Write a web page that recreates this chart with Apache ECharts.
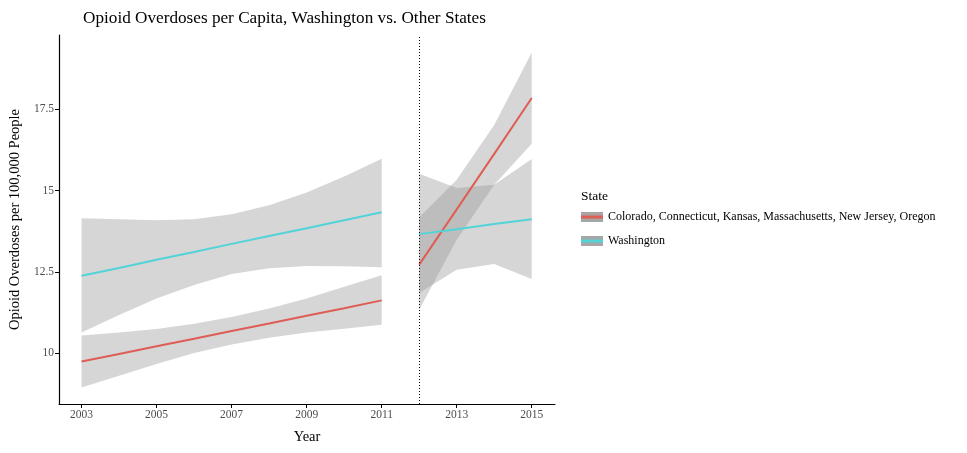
<!DOCTYPE html>
<html>
<head>
<meta charset="utf-8">
<script src="https://cdn.jsdelivr.net/npm/echarts@6/dist/echarts.min.js"></script>
<style>html,body{margin:0;padding:0;background:#fff}#c{width:967px;height:453px}</style>
</head>
<body>
<div id="c"></div>
<script>
// ---- data ----
const years1 = [2003, 2004, 2005, 2006, 2007, 2008, 2009, 2010, 2011];
const years2 = [2012, 2013, 2014, 2015];

const otherFit1   = [9.74, 9.97, 10.21, 10.44, 10.68, 10.91, 11.15, 11.38, 11.62];
const otherLower1 = [8.94, 9.30, 9.66, 10.00, 10.26, 10.47, 10.63, 10.75, 10.87];
const otherUpper1 = [10.54, 10.63, 10.74, 10.90, 11.11, 11.37, 11.68, 12.04, 12.39];

const waFit1   = [12.38, 12.62, 12.87, 13.11, 13.36, 13.60, 13.84, 14.09, 14.33];
const waLower1 = [10.63, 11.17, 11.68, 12.09, 12.43, 12.61, 12.68, 12.67, 12.64];
const waUpper1 = [14.15, 14.12, 14.09, 14.12, 14.27, 14.55, 14.94, 15.43, 15.98];

const otherFit2   = [12.72, 14.42, 16.13, 17.85];
const otherLower2 = [11.33, 13.49, 15.18, 16.44];
const otherUpper2 = [14.18, 15.33, 17.02, 19.25];

const waFit2   = [13.66, 13.81, 13.97, 14.12];
const waLower2 = [11.85, 12.56, 12.74, 12.28];
const waUpper2 = [15.52, 15.08, 15.18, 15.97];

const xTicks = [2003, 2005, 2007, 2009, 2011, 2013, 2015];
const yTicks = [10, 12.5, 15, 17.5];
const policyYear = 2012;

const nameOther = 'Colorado, Connecticut, Kansas, Massachusetts, New Jersey, Oregon';
const nameWA = 'Washington';
// --------------------------------------

const FONT = 'Liberation Serif';
const colOther = '#DE5D55';
const colWA = '#52D3D8';
const bandFill = 'rgba(153,153,153,0.4)';

function pairs(xs, ys) { return xs.map((x, i) => [x, ys[i]]); }

function band(id, xs, lo, hi) {
  return {
    type: 'custom', name: id, silent: true, animation: false, clip: true,
    encode: { x: 0, y: [1, 2] },
    data: xs.map((x, i) => [x, lo[i], hi[i]]),
    renderItem: function (params, api) {
      if (params.dataIndexInside !== 0) return null;
      const n = params.dataInsideLength;
      const pts = [];
      for (let i = 0; i < n; i++) pts.push(api.coord([api.value(0, i), api.value(2, i)]));
      for (let i = n - 1; i >= 0; i--) pts.push(api.coord([api.value(0, i), api.value(1, i)]));
      return { type: 'polygon', shape: { points: pts }, style: { fill: bandFill, stroke: null } };
    }
  };
}
function fitLine(name, xs, ys, color) {
  return { type: 'line', name: name, data: pairs(xs, ys), symbol: 'none',
    lineStyle: { color: color, width: 2 }, itemStyle: { color: color }, animation: false };
}
function keyIcon(color) {
  const svg = '<svg xmlns="http://www.w3.org/2000/svg" width="22" height="10">' +
    '<rect x="0" y="0" width="22" height="10" fill="#a6a6a6"/>' +
    '<rect x="0" y="3.5" width="22" height="3" fill="' + color + '"/></svg>';
  return 'image://data:image/svg+xml;charset=utf-8,' + encodeURIComponent(svg);
}

const series = [
  band('o1', years1, otherLower1, otherUpper1),
  fitLine(nameOther, years1, otherFit1, colOther),
  band('o2', years2, otherLower2, otherUpper2),
  fitLine(nameOther, years2, otherFit2, colOther),
  band('w1', years1, waLower1, waUpper1),
  fitLine(nameWA, years1, waFit1, colWA),
  band('w2', years2, waLower2, waUpper2),
  fitLine(nameWA, years2, waFit2, colWA),
  { type: 'line', name: 'vline', data: [], z: 5, animation: false,
    markLine: { silent: true, symbol: 'none', label: { show: false },
      lineStyle: { color: '#000', type: [1, 2], width: 1 },
      data: [{ xAxis: policyYear }] } }
];

const chart = echarts.init(document.getElementById('c'));
chart.setOption({
  backgroundColor: '#fff',
  textStyle: { fontFamily: FONT },
  title: [
    { text: 'Opioid Overdoses per Capita, Washington vs. Other States', left: 78, top: 5,
      textStyle: { fontFamily: FONT, fontSize: 17.2, fontWeight: 'normal', color: '#000' } },
    { text: 'State', left: 576, top: 184,
      textStyle: { fontFamily: FONT, fontSize: 13.5, fontWeight: 'normal', color: '#000' } }
  ],
  legend: {
    orient: 'vertical', left: 576, top: 206, itemWidth: 22, itemHeight: 10, itemGap: 12,
    selectedMode: false,
    textStyle: { fontFamily: FONT, fontSize: 12, color: '#000' },
    data: [
      { name: nameOther, icon: keyIcon(colOther) },
      { name: nameWA, icon: keyIcon(colWA) }
    ]
  },
  grid: { left: 58, right: 412, top: 35, bottom: 49, containLabel: false },
  xAxis: {
    type: 'value', min: 2002.4, max: 2015.62,
    name: 'Year', nameLocation: 'middle', nameGap: 26,
    nameTextStyle: { fontFamily: FONT, fontSize: 14.5, color: '#000' },
    axisLine: { show: true, lineStyle: { color: '#000', width: 1.2 } },
    axisTick: { show: true, length: 4, lineStyle: { color: '#000' }, customValues: xTicks },
    axisLabel: { fontFamily: FONT, fontSize: 11.5, color: '#4d4d4d', margin: 5, customValues: xTicks,
      formatter: v => String(v) },
    splitLine: { show: false }
  },
  yAxis: {
    type: 'value', min: 8.43, max: 19.79,
    name: 'Opioid Overdoses per 100,000 People', nameLocation: 'middle', nameGap: 34,
    nameTextStyle: { fontFamily: FONT, fontSize: 14.5, color: '#000' },
    axisLine: { show: true, lineStyle: { color: '#000', width: 1.2 } },
    axisTick: { show: true, length: 4, lineStyle: { color: '#000' }, customValues: yTicks },
    axisLabel: { fontFamily: FONT, fontSize: 11.5, color: '#4d4d4d', margin: 5, customValues: yTicks,
      formatter: v => String(v) },
    splitLine: { show: false }
  },
  series: series
});
</script>
</body>
</html>
